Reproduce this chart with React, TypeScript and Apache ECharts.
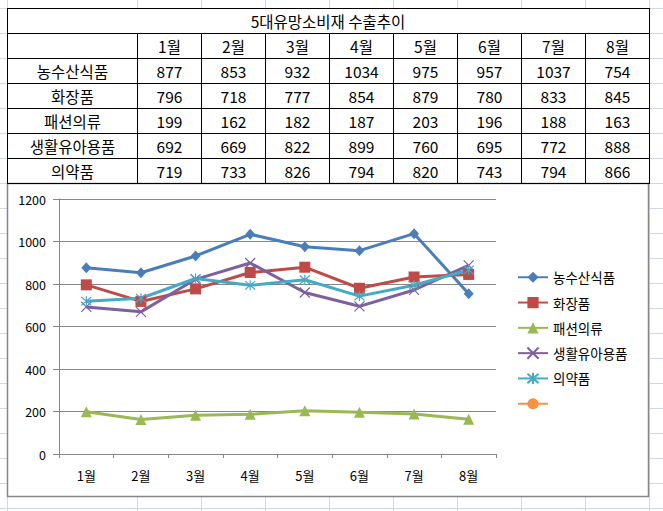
import React, { useEffect, useRef } from "react";
import * as echarts from "echarts";

const title = "5대유망소비재 수출추이";
const months = ["1월", "2월", "3월", "4월", "5월", "6월", "7월", "8월"];
const seriesNames = ["농수산식품", "화장품", "패션의류", "생활유아용품", "의약품"];
const agri = [877, 853, 932, 1034, 975, 957, 1037, 754];
const cosmetics = [796, 718, 777, 854, 879, 780, 833, 845];
const fashion = [199, 162, 182, 187, 203, 196, 188, 163];
const baby = [692, 669, 822, 899, 760, 695, 772, 888];
const pharma = [719, 733, 826, 794, 820, 743, 794, 866];
const seriesValues = [agri, cosmetics, fashion, baby, pharma];
const colors = ["#4A7EBB", "#BE4B48", "#98B954", "#7D60A0", "#46AAC5", "#F69240"];

const FONT = "'Noto Sans CJK KR', 'Noto Sans', sans-serif";

export default function App() {
  const ref = useRef<HTMLDivElement>(null);
  useEffect(() => {
    if (!ref.current) return;
    const chart = echarts.init(ref.current, undefined, { renderer: "svg" });

    const cols = [7, 137, 201, 265, 329, 393, 457, 521, 585, 649];
    const rows = [8, 33, 58, 83, 108, 133, 158, 183];
    const W = 663, H = 511;
    const graphics: any[] = [];
    const grid = "#D0D7E5";
    // spreadsheet gridlines
    for (const x of cols) {
      graphics.push({ type: "line", z: -20, silent: true, shape: { x1: x + 0.5, y1: 0, x2: x + 0.5, y2: H }, style: { stroke: grid, lineWidth: 1 } });
    }
    for (let y = 8; y < H; y += 25) {
      graphics.push({ type: "line", z: -20, silent: true, shape: { x1: 0, y1: y + 0.5, x2: W, y2: y + 0.5 }, style: { stroke: grid, lineWidth: 1 } });
    }
    // white table background
    graphics.push({ type: "rect", z: -15, silent: true, shape: { x: 7, y: 8, width: 642, height: 175 }, style: { fill: "#fff" } });
    // chart box
    graphics.push({ type: "rect", z: -10, silent: true, shape: { x: 7.5, y: 183.5, width: 641, height: 313 }, style: { fill: "#fff", stroke: "#868686", lineWidth: 1.5 } });
    // table lines
    const black = "#000";
    for (const y of rows) {
      graphics.push({ type: "line", z: 5, silent: true, shape: { x1: 7, y1: y + 0.5, x2: 650, y2: y + 0.5 }, style: { stroke: black, lineWidth: 1 } });
    }
    cols.forEach((x, i) => {
      const top = i === 0 || i === cols.length - 1 ? 8 : 33;
      graphics.push({ type: "line", z: 5, silent: true, shape: { x1: x + 0.5, y1: top, x2: x + 0.5, y2: 184 }, style: { stroke: black, lineWidth: 1 } });
    });
    const cellText = (text: string, cx: number, cy: number) => ({
      type: "text", z: 6, silent: true, x: cx, y: cy,
      style: { text, fill: "#000", font: `15.5px ${FONT}`, align: "center", verticalAlign: "middle" },
    });
    graphics.push(cellText(title, (cols[0] + cols[cols.length - 1]) / 2, 21));
    months.forEach((m, i) => graphics.push(cellText(m, (cols[i + 1] + cols[i + 2]) / 2 + 0.5, 46)));
    seriesNames.forEach((n, r) => {
      const cy = rows[r + 2] + 13;
      graphics.push(cellText(n, (cols[0] + cols[1]) / 2 + 0.5, cy));
      seriesValues[r].forEach((v, i) => graphics.push(cellText(String(v), (cols[i + 1] + cols[i + 2]) / 2 + 0.5, cy)));
    });

    const symbols = [
      "diamond",
      "rect",
      "triangle",
      "path://M0,0L10,10M10,0L0,10",
      "path://M0,0L10,10M10,0L0,10M5,-1L5,11",
      "circle",
    ];
    const sizes: any[] = [[10, 11], 11, 11, 10, 10, 10];

    const series: any[] = seriesNames.map((name, i) => ({
      type: "line",
      name,
      data: seriesValues[i],
      symbol: symbols[i],
      symbolSize: sizes[i],
      showAllSymbol: true,
      lineStyle: { color: colors[i], width: 3 },
      itemStyle: { color: colors[i], borderColor: colors[i], borderWidth: i >= 3 ? 1.2 : 0 },
      z: 3,
    }));
    series.push({
      type: "line",
      name: " ",
      data: months.map(() => null),
      symbol: "circle",
      symbolSize: 10,
      lineStyle: { color: colors[5], width: 3 },
      itemStyle: { color: colors[5] },
    });

    chart.setOption({
      animation: false,
      backgroundColor: "#fff",
      textStyle: { fontFamily: FONT },
      graphic: graphics,
      grid: { left: 59, top: 199, width: 437, height: 255, containLabel: false },
      xAxis: {
        type: "category",
        data: months,
        boundaryGap: true,
        axisLine: { lineStyle: { color: "#868686", width: 1 } },
        axisTick: { show: true, length: 4, lineStyle: { color: "#868686" } },
        axisLabel: { color: "#000", fontSize: 13, margin: 15, fontFamily: FONT },
        splitLine: { show: false },
      },
      yAxis: {
        type: "value",
        min: 0,
        max: 1200,
        interval: 200,
        axisLine: { show: true, lineStyle: { color: "#868686", width: 1 } },
        axisTick: { show: true, length: 6, lineStyle: { color: "#868686" } },
        axisLabel: { color: "#000", fontSize: 12.5, margin: 13, fontFamily: FONT, formatter: (v: number) => String(v) },
        splitLine: { show: true, lineStyle: { color: "#868686", width: 1 } },
      },
      legend: {
        orient: "vertical",
        left: 517,
        top: 270.5,
        padding: 0,
        itemWidth: 30,
        itemHeight: 14,
        itemGap: 11.8,
        textStyle: { color: "#000", fontSize: 13.5, fontFamily: FONT },
        data: [...seriesNames, " "],
      },
      series,
    });
    return () => chart.dispose();
  }, []);
  return <div ref={ref} style={{ position: "absolute", left: 0, top: 0, width: 663, height: 511 }} />;
}
